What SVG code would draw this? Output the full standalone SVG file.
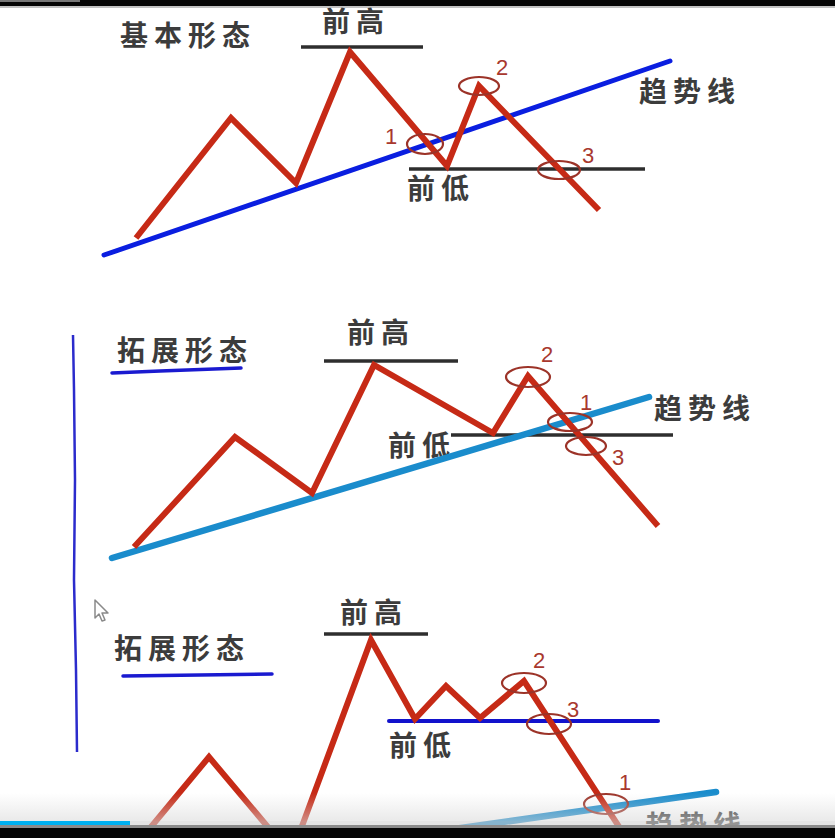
<svg xmlns="http://www.w3.org/2000/svg" width="835" height="838" viewBox="0 0 835 838">
<defs>
<style>
.cn{font-family:"Noto Sans CJK SC","Noto Sans CJK TC",sans-serif;font-size:28px;font-weight:700;fill:#3c3c3c;letter-spacing:6px}
.num{font-family:"Liberation Sans",Arial,sans-serif;font-size:22px;fill:#a8382e}
.red{fill:none;stroke:#c62a16;stroke-width:6;stroke-linejoin:miter;stroke-linecap:butt}
.blk{stroke:#2e2e2e;stroke-width:3.5}
.blue{stroke:#0a1ee0;stroke-width:5;stroke-linecap:round}
.cyan{stroke:#1a8ccc;stroke-width:6.5;stroke-linecap:round}
.ring{fill:none;stroke:#9c3328;stroke-width:2.2}
.uline{fill:none;stroke:#1a1ad0;stroke-width:3.5;stroke-linecap:round}
</style>
<linearGradient id="band" x1="0" y1="0" x2="0" y2="1">
<stop offset="0" stop-color="#d8d8d8" stop-opacity="0"/>
<stop offset="1" stop-color="#d8d8d8" stop-opacity="0.55"/>
</linearGradient>
</defs>
<rect width="835" height="838" fill="#ffffff"/>

<!-- Panel 1: 基本形态 -->
<g id="panel1">
<text class="cn" x="120" y="46">基本形态</text>
<g id="p1-high"><line class="blk" x1="301" y1="47" x2="423" y2="47"/><text class="cn" x="322" y="32">前高</text></g>
<g id="p1-low"><line class="blk" x1="409" y1="169" x2="645" y2="169"/><text class="cn" x="407" y="199">前低</text></g>
<g id="p1-trend"><line class="blue" x1="104" y1="255" x2="670" y2="61"/><text class="cn" x="639" y="102">趋势线</text></g>
<polyline class="red" points="136,238 231,118 296,183 350,52 447,166 479,86 599,210"/>
<g id="p1-m1"><ellipse class="ring" cx="425" cy="144" rx="18" ry="10"/><text class="num" x="385" y="144">1</text></g>
<g id="p1-m2"><ellipse class="ring" cx="479" cy="86" rx="20" ry="9"/><text class="num" x="496" y="75">2</text></g>
<g id="p1-m3"><ellipse class="ring" cx="559" cy="170" rx="21" ry="9"/><text class="num" x="582" y="163">3</text></g>
</g>

<!-- left vertical bar -->
<polyline fill="none" stroke="#2b2bcc" stroke-width="2.5" points="73,335 74,390 75,480 74,580 76,670 77,752"/>

<!-- Panel 2: 拓展形态 -->
<g id="panel2">
<text class="cn" x="117" y="361">拓展形态</text>
<path class="uline" d="M112,373 L160,371 L241,368"/>
<g id="p2-high"><line class="blk" x1="324" y1="361" x2="458" y2="361"/><text class="cn" x="347" y="343">前高</text></g>
<g id="p2-low"><line class="blk" x1="451" y1="435" x2="673" y2="435"/><text class="cn" x="388" y="456">前低</text></g>
<g id="p2-trend"><line class="cyan" x1="112" y1="558" x2="649" y2="397"/><text class="cn" x="654" y="419">趋势线</text></g>
<polyline class="red" points="134,547 235,437 312,493 374,365 493,433 528,376 658,526"/>
<g id="p2-m2"><ellipse class="ring" cx="528" cy="377" rx="22" ry="10"/><text class="num" x="541" y="362">2</text></g>
<g id="p2-m1"><ellipse class="ring" cx="570" cy="422" rx="22" ry="9"/><text class="num" x="580" y="410">1</text></g>
<g id="p2-m3"><ellipse class="ring" cx="586" cy="446" rx="20" ry="9"/><text class="num" x="612" y="465">3</text></g>
</g>

<!-- cursor -->
<path d="M95,600 L95,618 L99,614 L102,621 L105,620 L102,613 L108,613 Z" fill="#ffffff" stroke="#8a8a8a" stroke-width="1.5" stroke-linejoin="round"/>

<!-- Panel 3: 拓展形态 -->
<g id="panel3">
<text class="cn" x="114" y="659">拓展形态</text>
<path class="uline" d="M123,676 L200,675 L272,674"/>
<g id="p3-high"><line class="blk" x1="324" y1="634" x2="428" y2="634"/><text class="cn" x="340" y="623">前高</text></g>
<g id="p3-low"><line class="uline" x1="389" y1="721" x2="658" y2="721" style="stroke:#1212cc;stroke-width:4"/><text class="cn" x="389" y="756">前低</text></g>
<g id="p3-trend"><line class="cyan" x1="390" y1="838" x2="716" y2="792"/><text class="cn" x="645" y="836">趋势线</text></g>
<polyline class="red" points="136,845 209,757 283,845"/>
<polyline class="red" points="295,845 371,640 415,719 446,686 480,718 524,681 629,842"/>
<g id="p3-m2"><ellipse class="ring" cx="524" cy="683" rx="22" ry="10"/><text class="num" x="533" y="668">2</text></g>
<g id="p3-m3"><ellipse class="ring" cx="549" cy="724" rx="22" ry="10"/><text class="num" x="567" y="717">3</text></g>
<g id="p3-m1"><ellipse class="ring" cx="606" cy="804" rx="22" ry="10"/><text class="num" x="619" y="790">1</text></g>
</g>

<!-- player chrome -->
<rect x="0" y="0" width="835" height="6" fill="#050505"/>
<rect x="0" y="0" width="80" height="2" fill="#777777"/>
<rect x="0" y="6" width="835" height="2" fill="#9a9a9a" opacity="0.6"/>
<rect x="0" y="793" width="835" height="28" fill="url(#band)"/>
<rect x="0" y="821" width="835" height="4" fill="#d0d0d0" opacity="0.6"/>
<rect x="0" y="821" width="130" height="4" fill="#00b0f0"/>
<rect x="0" y="825" width="835" height="3" fill="#8a8a8a"/>
<rect x="0" y="828" width="835" height="10" fill="#050505"/>
</svg>
